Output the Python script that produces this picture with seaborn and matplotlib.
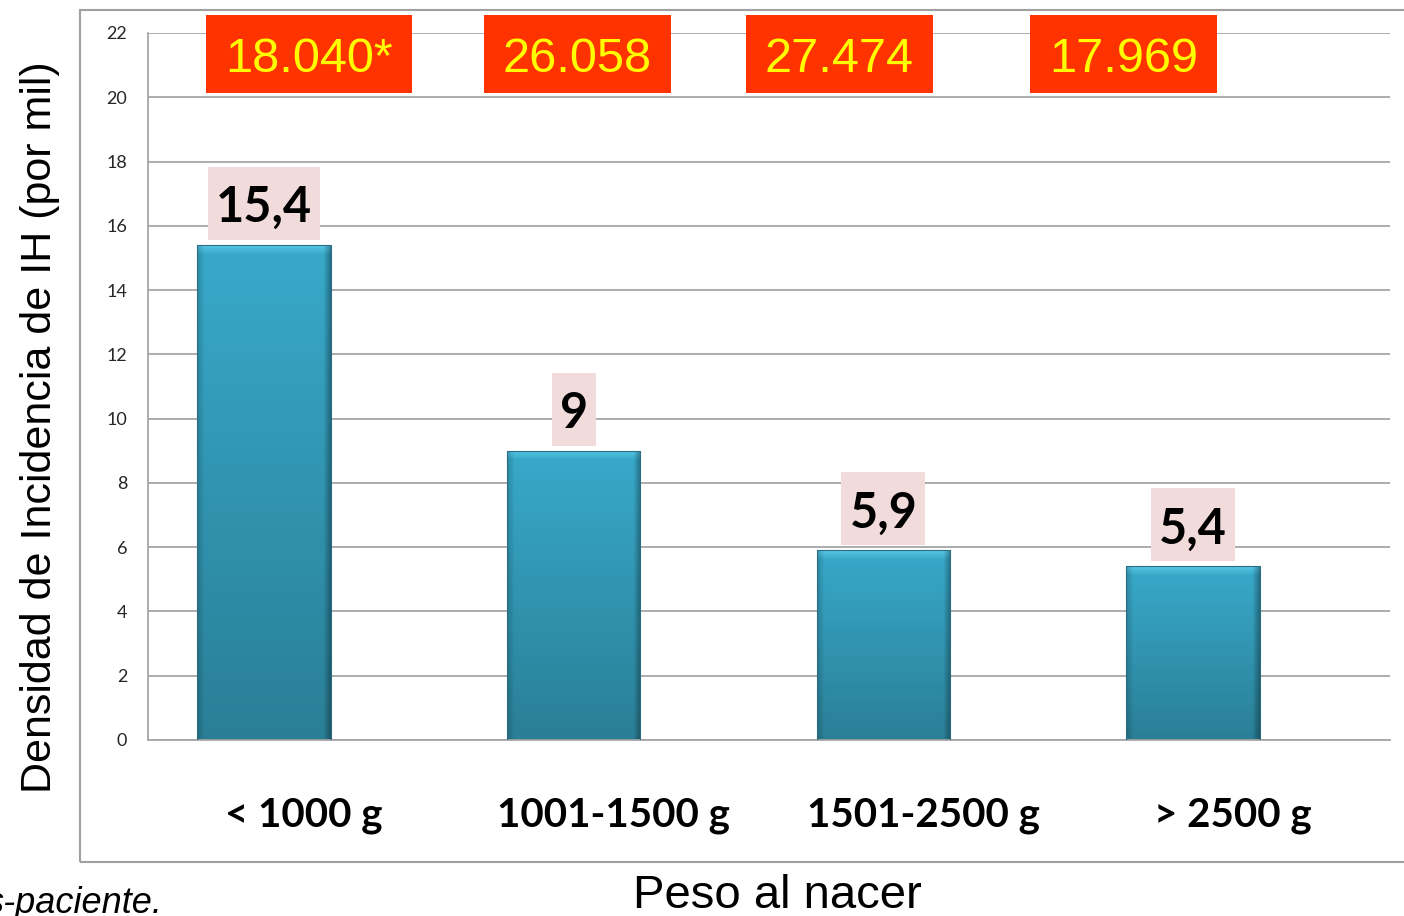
import numpy as np
import pandas as pd
import matplotlib
matplotlib.use("Agg")
import matplotlib.pyplot as plt
from matplotlib.patches import Rectangle
from matplotlib.colors import to_rgb
from matplotlib.transforms import blended_transform_factory, IdentityTransform
import seaborn as sns

# Incidence density of hospital infection by birth-weight group
categories = ["< 1000 g", "1001-1500 g", "1501-2500 g", "> 2500 g"]
densidad = [15.4, 9, 5.9, 5.4]
densidad_labels = ["15,4", "9", "5,9", "5,4"]
dias_paciente = ["18.040*", "26.058", "27.474", "17.969"]
y_ticks = list(range(0, 23, 2))

# horizontal placement of the patient-day boxes (category units)
box_x = [0.145, 1.011, 1.857, 2.777]

sns.set_theme(style="white")
plt.rcParams["font.family"] = ["Liberation Sans", "DejaVu Sans"]

W, H = 1404, 916
fig = plt.figure(figsize=(W / 100, H / 100), dpi=100)
ax = fig.add_axes([148 / W, 1 - 740 / H, 1242 / W, 707 / H])

df = pd.DataFrame({"peso": categories, "densidad": densidad})
sns.barplot(data=df, x="peso", y="densidad", width=0.43, color="#31a0c0",
            saturation=1, ax=ax, zorder=2)

# shaded fill for each bar: vertical gradient, light top bevel, darker sides
top_c = np.array(to_rgb("#38a9ca"))
bot_c = np.array(to_rgb("#2a7f96"))
light = np.array(to_rgb("#5ccbea"))
for patch in list(ax.patches):
    x0, w, h = patch.get_x(), patch.get_width(), patch.get_height()
    rows = max(int(h * 32), 12)
    cols = 133
    t = np.linspace(0, 1, rows)[:, None, None]
    img = top_c * (1 - t) + bot_c * t
    img = np.repeat(img, cols, axis=1)
    bev = 9
    for r in range(bev):
        f = (1 - r / bev) * 0.85
        img[r] = img[r] * (1 - f) + light * f
    edge = 7
    for c in range(edge):
        f = (1 - c / edge) * 0.18
        img[:, c] *= (1 - f)
        img[:, -1 - c] *= (1 - f * 1.8)
    img = np.clip(img, 0, 1)
    im = ax.imshow(img, extent=[x0, x0 + w, 0, h], aspect="auto",
                   zorder=2.5, interpolation="bilinear")
    im.set_clip_path(patch)
    patch.set_facecolor("none")
    patch.set_edgecolor("#2b6e84")
    patch.set_linewidth(0.8)
    patch.set_zorder(3)

ax.set_xlim(-0.3746, 3.636)
ax.set_ylim(0, 22)
ax.set_yticks(y_ticks)
ax.set_yticklabels([str(t) for t in y_ticks], family="Lato", fontsize=13)
ax.tick_params(axis="y", length=0, pad=15)
ax.set_xticks(range(len(categories)))
ax.set_xticklabels([])
ax.tick_params(axis="x", length=0)
ax.set_xlabel("")
ax.set_ylabel("")

ax.yaxis.grid(True, color="#a6a6a6", lw=1.3)
ax.set_axisbelow(True)
for side in ("top", "right"):
    ax.spines[side].set_visible(False)
for side in ("left", "bottom"):
    ax.spines[side].set_color("#a6a6a6")
    ax.spines[side].set_linewidth(1.3)

# value labels above the bars (baseline 23 px above each bar top)
value_texts = []
for i, (v, lab) in enumerate(zip(densidad, densidad_labels)):
    t = ax.annotate(lab, xy=(i, v), xytext=(0, 23 * 0.72), textcoords="offset points",
                    ha="center", va="baseline", fontsize=35, fontweight="bold",
                    family="Lato", color="black", zorder=5)
    value_texts.append((t, ax.transData.transform((i, v))[1] + 23))

# patient-day totals across the top
top_texts = []
for xb, s in zip(box_x, dias_paciente):
    t = ax.text(xb, 20.78, s, ha="center", va="baseline", fontsize=35,
                color="#ffff00", family="Liberation Sans", zorder=6, clip_on=False)
    top_texts.append((t, ax.transData.transform((xb, 20.78))[1]))

# category names below the bars
trans = blended_transform_factory(ax.transData, ax.transAxes)
for i, lab in enumerate(categories):
    ax.text(i + 0.128, -0.123, lab, transform=trans, ha="center", va="baseline",
            fontsize=29, fontweight="bold", family="Lato", color="black")

fig.text(51 / W, 1 - 427 / H, "Densidad de Incidencia de IH (por mil)",
         rotation=90, rotation_mode="anchor", ha="center", va="baseline",
         fontsize=31, color="black")
fig.text(777 / W, 1 - 908 / H, "Peso al nacer", ha="center", va="baseline",
         fontsize=34, color="black")
fig.text(163 / W, 1 - 913 / H, "s-paciente.", ha="right", va="baseline",
         fontsize=26, style="italic", color="black")

# chart-area frame
fig.patches.append(Rectangle((80 / W, 1 - 862 / H), 1.0, (862 - 10) / H,
                             transform=fig.transFigure, fill=False,
                             ec="#a0a0a0", lw=1.5))

# background boxes sized from the rendered text
fig.canvas.draw()
renderer = fig.canvas.get_renderer()


def backdrop(txt, base, pad_x, below, height, color, z):
    bb = txt.get_window_extent(renderer)
    rect = Rectangle((bb.x0 - pad_x, base - below), bb.width + 2 * pad_x, height,
                     transform=IdentityTransform(), fc=color, ec="none", zorder=z)
    ax.add_artist(rect)
    rect.set_clip_on(False)


for t, base in value_texts:
    backdrop(t, base, 8, 18, 73, "#f2dcdb", 4.5)
for t, base in top_texts:
    backdrop(t, base, 19, 21, 78, "#ff3300", 5.5)

fig.savefig("out.png", dpi=100)
